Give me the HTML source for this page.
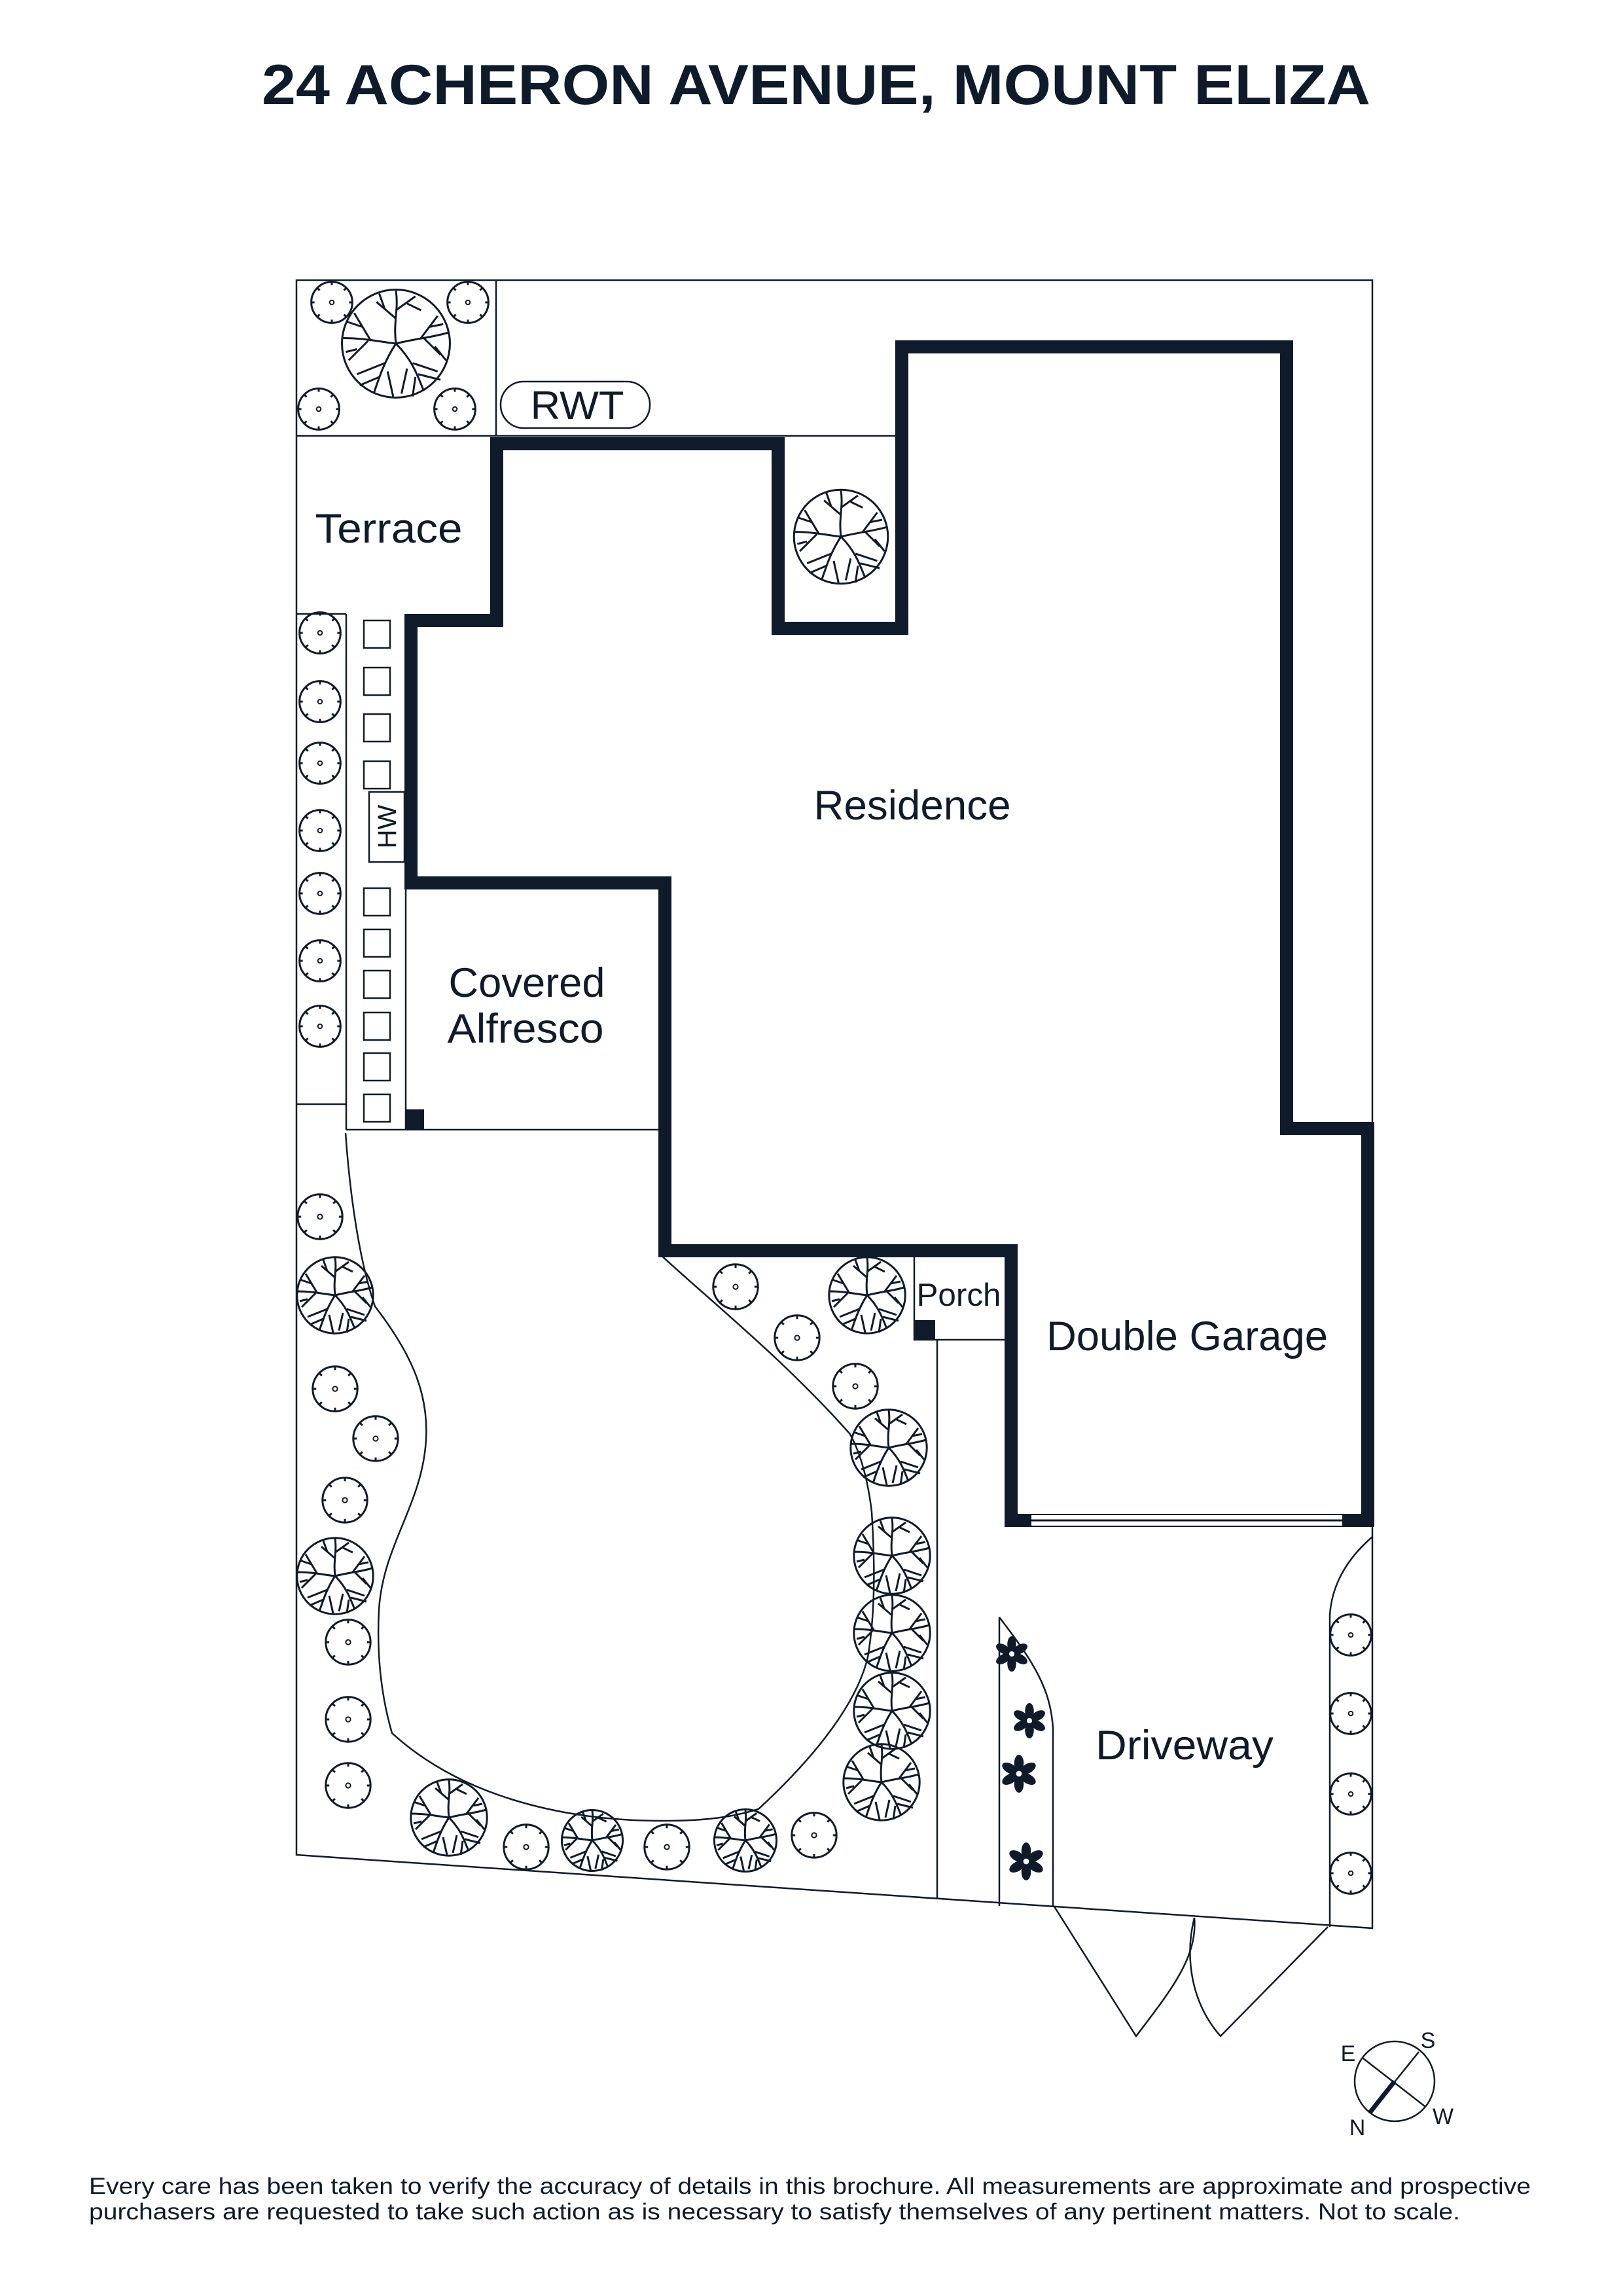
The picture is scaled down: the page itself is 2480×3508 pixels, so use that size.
<!DOCTYPE html>
<html><head><meta charset="utf-8"><style>
html,body{margin:0;padding:0;background:#fff}
svg{display:block}
text{font-family:"Liberation Sans",sans-serif;fill:#0f1b2a}
</style></head><body>
<svg width="2480" height="3508" viewBox="0 0 2480 3508" xmlns="http://www.w3.org/2000/svg">
<defs>
<symbol id="tree" viewBox="-1 -1 2 2" overflow="visible">
<g fill="none" stroke="#0f1b2a" stroke-width="3" vector-effect="non-scaling-stroke">
<circle r="0.97" vector-effect="non-scaling-stroke"/>
<path vector-effect="non-scaling-stroke" d="M0 0 C-0.05 -0.4 0.05 -0.6 0 -0.95 M0 -0.45 L-0.35 -0.75 M-0.2 -0.62 L-0.3 -0.9 M0 -0.6 L0.35 -0.85 M0.2 -0.72 L0.45 -0.6"/>
<path vector-effect="non-scaling-stroke" d="M0 0 C0.4 -0.1 0.6 -0.1 0.95 -0.2 M0.45 -0.1 L0.75 -0.5 M0.6 -0.3 L0.85 -0.35 M0.5 -0.1 L0.8 0.2 M0.7 0.05 L0.9 0.3"/>
<path vector-effect="non-scaling-stroke" d="M0 0 C0.3 0.3 0.4 0.6 0.5 0.85 M0.3 0.35 L0.75 0.5 M0.4 0.55 L0.8 0.65 M0.2 0.45 L0.1 0.9 M0.35 0.6 L0.3 0.95"/>
<path vector-effect="non-scaling-stroke" d="M0 0 C-0.2 0.3 -0.3 0.6 -0.4 0.9 M-0.2 0.35 L-0.7 0.55 M-0.3 0.6 L-0.65 0.75 M-0.15 0.5 L-0.05 0.95"/>
<path vector-effect="non-scaling-stroke" d="M0 0 C-0.4 -0.05 -0.6 -0.1 -0.95 -0.1 M-0.45 -0.05 L-0.75 -0.55 M-0.6 -0.3 L-0.9 -0.4 M-0.5 -0.05 L-0.85 0.3 M-0.7 0.1 L-0.9 0.15"/>
</g>
</symbol>
<symbol id="shrub" viewBox="-1 -1 2 2" overflow="visible">
<g fill="none" stroke="#0f1b2a" stroke-width="3">
<circle r="0.95" vector-effect="non-scaling-stroke"/>
<circle r="0.1" vector-effect="non-scaling-stroke" stroke-width="2"/>
<path vector-effect="non-scaling-stroke" d="M0 -0.95 L0 -0.8 M0.67 -0.67 L0.56 -0.56 M0.95 0 L0.8 0 M0.67 0.67 L0.56 0.56 M0 0.95 L0 0.8 M-0.67 0.67 L-0.56 0.56 M-0.95 0 L-0.8 0 M-0.67 -0.67 L-0.56 -0.56"/>
</g>
</symbol>
<symbol id="flower" viewBox="-1 -1 2 2" overflow="visible">
<g fill="#0f1b2a">
<ellipse cx="0" cy="-0.55" rx="0.25" ry="0.45"/>
<ellipse cx="0" cy="-0.55" rx="0.25" ry="0.45" transform="rotate(60)"/>
<ellipse cx="0" cy="-0.55" rx="0.25" ry="0.45" transform="rotate(120)"/>
<ellipse cx="0" cy="-0.55" rx="0.25" ry="0.45" transform="rotate(180)"/>
<ellipse cx="0" cy="-0.55" rx="0.25" ry="0.45" transform="rotate(240)"/>
<ellipse cx="0" cy="-0.55" rx="0.25" ry="0.45" transform="rotate(300)"/>
<circle r="0.35"/>
</g>
<circle r="0.15" fill="#fff"/>
</symbol>
</defs>

<text x="1247" y="159" font-size="86" font-weight="bold" text-anchor="middle" textLength="1694" lengthAdjust="spacingAndGlyphs">24 ACHERON AVENUE, MOUNT ELIZA</text>

<g fill="none" stroke="#0f1b2a" stroke-width="2.5">
<!-- site boundary -->
<path d="M453 428 L2097 428 L2097 2946 L453 2834 Z"/>
<!-- top-left box -->
<path d="M758 428 L758 666 M453 666 L1378 666"/>
<!-- RWT pill -->
<rect x="765" y="583" width="228" height="71" rx="35"/>
<!-- left strip -->
<path d="M453 938 L529 938 M529 938 L529 1726 M453 1687 L529 1687 M529 1726 L1016 1726"/>
<path d="M620 1349 L620 1726"/>
<rect x="564" y="1210" width="54" height="107"/>
<!-- squares -->
<rect x="556" y="948" width="40" height="42"/>
<rect x="556" y="1020" width="40" height="42"/>
<rect x="556" y="1091" width="40" height="42"/>
<rect x="556" y="1163" width="40" height="42"/>
<rect x="556" y="1357" width="40" height="42"/>
<rect x="556" y="1420" width="40" height="42"/>
<rect x="556" y="1483" width="40" height="42"/>
<rect x="556" y="1547" width="40" height="42"/>
<rect x="556" y="1609" width="40" height="42"/>
<rect x="556" y="1672" width="40" height="42"/>
<!-- lawn -->
<path d="M528 1731 C535 1830 550 1930 573 1996 C630 2070 655 2130 651 2200 C645 2300 585 2360 579 2460 C575 2540 585 2600 599 2648 C700 2740 850 2782 1014 2782 C1080 2782 1120 2776 1159 2764 C1250 2680 1310 2600 1326 2532 C1340 2450 1335 2360 1332 2310 C1325 2250 1310 2210 1298 2190 C1200 2080 1100 2000 1008 1916"/>
<!-- porch / driveway -->
<path d="M1397 1916 L1397 2047 L1540 2047 M1432 2047 L1432 2901"/>
<path d="M1527 2471 L1527 2912 M1527 2471 C1580 2540 1605 2580 1609 2640 L1609 2912"/>
<path d="M2032 2944 L2032 2468 C2035 2420 2060 2380 2097 2348"/>
<!-- gates -->
<path d="M1611 2913 L1736 3111 C1790 3040 1830 2990 1825 2930"/>
<path d="M2029 2944 L1865 3111 C1820 3060 1810 2990 1825 2930"/>
</g>

<!-- residence walls -->
<path d="M1378 530 L1966 530 L1966 1724 L2090 1724 L2090 2323 L1545 2323 L1545 1911 L1016 1911 L1016 1349 L628 1349 L628 948 L759 948 L759 678 L1189 678 L1189 960 L1378 960 Z" fill="none" stroke="#0f1b2a" stroke-width="20" stroke-linejoin="miter"/>
<!-- garage door opening -->
<rect x="1576" y="2315" width="475" height="16" fill="#fff"/>
<line x1="1576" y1="2323" x2="2051" y2="2323" stroke="#0f1b2a" stroke-width="3"/>
<!-- posts -->
<rect x="620" y="1695" width="28" height="30" fill="#0f1b2a"/>
<rect x="1397" y="2017" width="32" height="30" fill="#0f1b2a"/>

<!-- trees -->
<use href="#tree" x="520" y="440" width="170" height="170"/>
<use href="#tree" x="1211" y="740" width="148" height="160"/>
<use href="#tree" x="452" y="1919" width="120" height="120"/>
<use href="#tree" x="452" y="2348" width="120" height="120"/>
<use href="#tree" x="626" y="2717" width="120" height="120"/>
<use href="#tree" x="857" y="2764" width="96" height="96"/>
<use href="#tree" x="1090" y="2763" width="98" height="98"/>
<use href="#tree" x="1265" y="1919" width="120" height="120"/>
<use href="#tree" x="1298" y="2152" width="120" height="120"/>
<use href="#tree" x="1303" y="2317" width="120" height="120"/>
<use href="#tree" x="1303" y="2435" width="120" height="120"/>
<use href="#tree" x="1303" y="2554" width="120" height="120"/>
<use href="#tree" x="1287" y="2663" width="120" height="120"/>

<!-- shrubs -->
<g>
<use href="#shrub" x="474" y="429" width="66" height="66"/>
<use href="#shrub" x="682" y="429" width="66" height="66"/>
<use href="#shrub" x="454" y="592" width="66" height="66"/>
<use href="#shrub" x="662" y="592" width="66" height="66"/>
<use href="#shrub" x="456" y="934" width="66" height="66"/>
<use href="#shrub" x="456" y="1039" width="66" height="66"/>
<use href="#shrub" x="456" y="1133" width="66" height="66"/>
<use href="#shrub" x="456" y="1236" width="66" height="66"/>
<use href="#shrub" x="456" y="1332" width="66" height="66"/>
<use href="#shrub" x="456" y="1435" width="66" height="66"/>
<use href="#shrub" x="456" y="1535" width="66" height="66"/>
<use href="#shrub" x="453" y="1823" width="72" height="72"/>
<use href="#shrub" x="476" y="2086" width="72" height="72"/>
<use href="#shrub" x="538" y="2162" width="72" height="72"/>
<use href="#shrub" x="491" y="2256" width="72" height="72"/>
<use href="#shrub" x="496" y="2473" width="72" height="72"/>
<use href="#shrub" x="496" y="2591" width="72" height="72"/>
<use href="#shrub" x="496" y="2692" width="72" height="72"/>
<use href="#shrub" x="768" y="2786" width="72" height="72"/>
<use href="#shrub" x="983" y="2786" width="72" height="72"/>
<use href="#shrub" x="1208" y="2768" width="72" height="72"/>
<use href="#shrub" x="1088" y="1930" width="72" height="72"/>
<use href="#shrub" x="1182" y="2008" width="72" height="72"/>
<use href="#shrub" x="1271" y="2082" width="72" height="72"/>
<use href="#shrub" x="2031" y="2465" width="66" height="66"/>
<use href="#shrub" x="2031" y="2585" width="66" height="66"/>
<use href="#shrub" x="2031" y="2708" width="66" height="66"/>
<use href="#shrub" x="2031" y="2829" width="66" height="66"/>
</g>

<!-- flowers -->
<use href="#flower" x="1519" y="2500" width="54" height="54"/>
<use href="#flower" x="1546" y="2602" width="54" height="54"/>
<use href="#flower" x="1528" y="2681" width="58" height="58"/>
<use href="#flower" x="1539" y="2815" width="58" height="58"/>

<!-- labels -->
<text x="882" y="640" font-size="60" text-anchor="middle" textLength="143" lengthAdjust="spacingAndGlyphs">RWT</text>
<text x="594" y="829" font-size="63" text-anchor="middle" textLength="225" lengthAdjust="spacingAndGlyphs">Terrace</text>
<text x="1394" y="1252" font-size="63" text-anchor="middle" textLength="301" lengthAdjust="spacingAndGlyphs">Residence</text>
<text x="805" y="1523" font-size="63" text-anchor="middle" textLength="239" lengthAdjust="spacingAndGlyphs">Covered</text>
<text x="803" y="1593" font-size="63" text-anchor="middle" textLength="239" lengthAdjust="spacingAndGlyphs">Alfresco</text>
<text x="1465" y="1995" font-size="49" text-anchor="middle" textLength="129" lengthAdjust="spacingAndGlyphs">Porch</text>
<text x="1814" y="2063" font-size="63" text-anchor="middle" textLength="430" lengthAdjust="spacingAndGlyphs">Double Garage</text>
<text x="1810" y="2688" font-size="63" text-anchor="middle" textLength="272" lengthAdjust="spacingAndGlyphs">Driveway</text>
<text transform="translate(605,1263) rotate(-90)" font-size="40" text-anchor="middle">HW</text>

<!-- compass -->
<g fill="none" stroke="#0f1b2a">
<circle cx="2131" cy="3180" r="61" stroke-width="2.5"/>
<line x1="2168" y1="3135" x2="2093" y2="3228" stroke-width="2.5"/>
<line x1="2131" y1="3180" x2="2093" y2="3228" stroke-width="7"/>
<line x1="2083" y1="3145" x2="2177" y2="3218" stroke-width="2.5"/>
</g>
<text x="2060" y="3149" font-size="34" text-anchor="middle">E</text>
<text x="2182" y="3129" font-size="34" text-anchor="middle">S</text>
<text x="2074" y="3262" font-size="34" text-anchor="middle">N</text>
<text x="2205" y="3245" font-size="34" text-anchor="middle">W</text>

<text x="136" y="3352" font-size="35" textLength="2203" lengthAdjust="spacingAndGlyphs">Every care has been taken to verify the accuracy of details in this brochure. All measurements are approximate and prospective</text>
<text x="136" y="3391" font-size="35" textLength="2095" lengthAdjust="spacingAndGlyphs">purchasers are requested to take such action as is necessary to satisfy themselves of any pertinent matters. Not to scale.</text>
</svg>
</body></html>
